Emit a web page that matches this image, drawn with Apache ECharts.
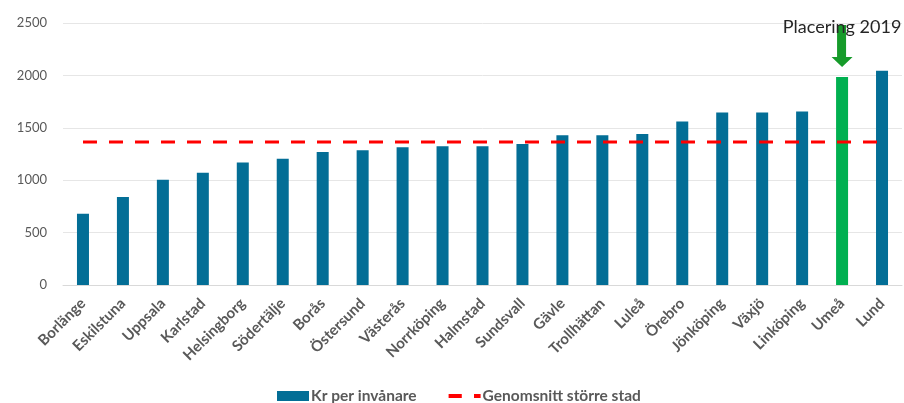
<!DOCTYPE html>
<html>
<head>
<meta charset="utf-8">
<script src="https://cdn.jsdelivr.net/npm/echarts@6/dist/echarts.min.js"></script>
<style>
  html, body { margin: 0; padding: 0; background: #fff; }
  #chart { width: 904px; height: 403px; }
</style>
</head>
<body>
<div id="chart"></div>
<script>
const categories = ["Borlänge", "Eskilstuna", "Uppsala", "Karlstad", "Helsingborg", "Södertälje", "Borås",
  "Östersund", "Västerås", "Norrköping", "Halmstad", "Sundsvall", "Gävle", "Trollhättan", "Luleå",
  "Örebro", "Jönköping", "Växjö", "Linköping", "Umeå", "Lund"];
const krPerInvanare = [680, 840, 1005, 1070, 1170, 1205, 1270, 1285, 1315, 1325, 1325, 1345, 1430,
  1430, 1440, 1560, 1645, 1645, 1655, 1985, 2045];
const genomsnitt = 1365;
const highlightCity = "Umeå";

const chart = echarts.init(document.getElementById("chart"));
const font = "Lato, 'Liberation Sans', sans-serif";

const arrowPath = "path://M5.5,0 L14.5,0 L14.5,32 L21,32 L10.5,42 L0,32 L5.5,32 Z";
const dashIcon = "path://M0,0 H14 V4 H0 Z M27,0 H34 V4 H27 Z";

chart.setOption({
  animation: false,
  textStyle: { fontFamily: font },
  grid: { left: 63, right: 2, top: 23, bottom: 118 },
  legend: {
    left: 272,
    top: 383,
    itemGap: 32,
    itemWidth: 32,
    itemHeight: 10,
    textStyle: { color: "#595959", fontSize: 15.5, fontWeight: "bold", fontFamily: font, padding: [0, 0, 0, -3] },
    data: [
      { name: "Kr per invånare", icon: "rect" },
      { name: "Genomsnitt större stad", icon: dashIcon, itemStyle: { color: "#ff0000" } }
    ]
  },
  xAxis: {
    type: "category",
    data: categories,
    axisTick: { show: false },
    axisLine: { lineStyle: { color: "#d9d9d9" } },
    axisLabel: { rotate: 45, color: "#595959", fontSize: 15, fontWeight: "bold", margin: 16, interval: 0 }
  },
  yAxis: {
    type: "value",
    min: 0,
    max: 2500,
    interval: 500,
    axisLabel: { color: "#595959", fontSize: 13, margin: 16, formatter: v => String(v) },
    splitLine: { lineStyle: { color: "#e6e6e6" } }
  },
  series: [
    {
      name: "Kr per invånare",
      type: "bar",
      barWidth: 12,
      itemStyle: { color: "#036e96" },
      data: krPerInvanare.map((v, i) => categories[i] === highlightCity
        ? { value: v, itemStyle: { color: "#00b050" } }
        : v),
      markPoint: {
        silent: true,
        symbol: arrowPath,
        symbolSize: [21, 42],
        symbolOffset: [0, -31],
        itemStyle: { color: "#169b2a" },
        label: {
          show: true,
          position: "top",
          distance: -11,
          formatter: "Placering 2019",
          color: "#262626",
          fontSize: 18,
          fontFamily: font
        },
        data: [{ coord: [highlightCity, krPerInvanare[categories.indexOf(highlightCity)]] }]
      }
    },
    {
      name: "Genomsnitt större stad",
      type: "line",
      symbol: "none",
      z: 3,
      lineStyle: { color: "#ff0000", width: 3, type: [14, 12] },
      itemStyle: { color: "#ff0000" },
      data: categories.map(() => genomsnitt)
    }
  ]
});
</script>
</body>
</html>
